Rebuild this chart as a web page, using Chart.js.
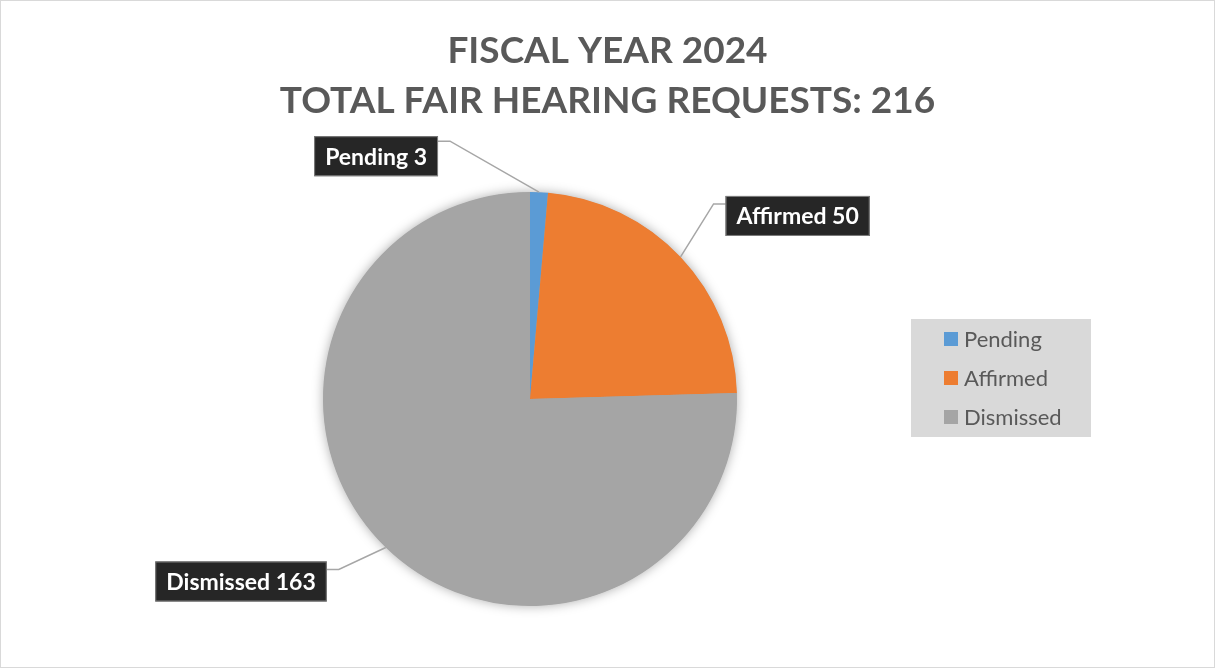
<!DOCTYPE html>
<html>
<head>
<meta charset="utf-8">
<script src="https://cdn.jsdelivr.net/npm/chart.js@4.4.1/dist/chart.umd.min.js"></script>
<style>
  html, body { margin: 0; padding: 0; background: #ffffff; }
  canvas { display: block; }
</style>
</head>
<body>
<canvas id="myChart" width="1215" height="668"></canvas>
<script>
// datos del grafico
const categorias = ['Pending', 'Affirmed', 'Dismissed'];
const solicitudes = [3, 50, 163];
const colores = ['#5B9BD5', '#ED7D31', '#A5A5A5'];
const tituloLineas = ['FISCAL YEAR 2024', 'TOTAL FAIR HEARING REQUESTS: 216'];

// donde va cada etiqueta respecto al borde de su porcion (codo de la linea guia)
const codos = [
  { dx: -89, dy: -51, lado: 'izq', arriba: 5 },
  { dx: 33, dy: -53, lado: 'der', arriba: 8 },
  { dx: -47, dy: 22, lado: 'izq', arriba: 8 },
];

const fuente = 'Lato, "Open Sans", sans-serif';

const fondo = {
  id: 'fondo',
  beforeDraw: (chart) => {
    const ctx = chart.ctx;
    ctx.save();
    ctx.fillStyle = '#ffffff';
    ctx.fillRect(0, 0, chart.width, chart.height);
    ctx.strokeStyle = '#d9d9d9';
    ctx.lineWidth = 1;
    ctx.strokeRect(0.5, 0.5, chart.width - 1, chart.height - 1);
    ctx.restore();
  },
};

const sombra = {
  id: 'sombra',
  beforeDatasetsDraw: (chart) => {
    const arco = chart.getDatasetMeta(0).data[0];
    if (!arco) return;
    const { x, y, outerRadius } = arco.getProps(['x', 'y', 'outerRadius'], true);
    const ctx = chart.ctx;
    ctx.save();
    ctx.shadowColor = 'rgba(0,0,0,0.35)';
    ctx.shadowBlur = 12;
    ctx.shadowOffsetX = 0;
    ctx.shadowOffsetY = 0;
    ctx.fillStyle = '#a5a5a5';
    ctx.beginPath();
    ctx.arc(x, y, outerRadius - 0.5, 0, Math.PI * 2);
    ctx.fill();
    ctx.restore();
  },
};

const titulo = {
  id: 'titulo',
  afterDraw: (chart) => {
    const ctx = chart.ctx;
    ctx.save();
    ctx.fillStyle = '#595959';
    ctx.font = `bold 37px ${fuente}`;
    ctx.textAlign = 'center';
    ctx.textBaseline = 'middle';
    tituloLineas.forEach((linea, i) => {
      ctx.fillText(linea, chart.width / 2, 51 + i * 50);
    });
    ctx.restore();
  },
};

const etiquetas = {
  id: 'etiquetas',
  afterDatasetsDraw: (chart) => {
    const ctx = chart.ctx;
    const meta = chart.getDatasetMeta(0);
    ctx.save();
    ctx.font = `bold 23px ${fuente}`;
    meta.data.forEach((arco, i) => {
      const { x, y, startAngle, endAngle, outerRadius } =
        arco.getProps(['x', 'y', 'startAngle', 'endAngle', 'outerRadius'], true);
      const medio = (startAngle + endAngle) / 2;
      const px = x + Math.cos(medio) * outerRadius;
      const py = y + Math.sin(medio) * outerRadius;
      const c = codos[i];
      const ex = px + c.dx;
      const ey = py + c.dy;

      const texto = `${categorias[i]} ${solicitudes[i]}`;
      const ancho = ctx.measureText(texto).width + 22;
      const alto = 40;
      const bx = c.lado === 'izq' ? ex - 12 - ancho : ex + 12;
      const by = ey - c.arriba;

      ctx.strokeStyle = '#a6a6a6';
      ctx.lineWidth = 1.5;
      ctx.beginPath();
      ctx.moveTo(px, py);
      ctx.lineTo(ex, ey);
      ctx.lineTo(c.lado === 'izq' ? ex - 12 : ex + 12, ey);
      ctx.stroke();

      ctx.fillStyle = '#262626';
      ctx.fillRect(bx, by, ancho, alto);
      ctx.strokeStyle = '#7f7f7f';
      ctx.lineWidth = 1;
      ctx.strokeRect(bx + 0.5, by + 0.5, ancho - 1, alto - 1);

      ctx.fillStyle = '#ffffff';
      ctx.textAlign = 'center';
      ctx.textBaseline = 'middle';
      ctx.fillText(texto, bx + ancho / 2, by + alto / 2 + 1);
    });
    ctx.restore();
  },
};

const leyenda = {
  id: 'leyenda',
  afterDraw: (chart) => {
    const ctx = chart.ctx;
    ctx.save();
    ctx.fillStyle = '#d9d9d9';
    ctx.fillRect(911, 319, 180, 118);
    ctx.font = `22px ${fuente}`;
    ctx.textAlign = 'left';
    ctx.textBaseline = 'middle';
    chart.data.labels.forEach((etiqueta, i) => {
      const yy = 339 + i * 39;
      ctx.fillStyle = chart.data.datasets[0].backgroundColor[i];
      ctx.fillRect(944, yy - 7, 14, 14);
      ctx.fillStyle = '#595959';
      ctx.fillText(etiqueta, 964, yy + 1);
    });
    ctx.restore();
  },
};

const dataFinal = {
  labels: categorias,
  datasets: [{
    data: solicitudes,
    backgroundColor: colores,
    borderWidth: 0,
  }],
};

const config = {
  type: 'pie',
  data: dataFinal,
  options: {
    responsive: false,
    animation: false,
    devicePixelRatio: 1,
    layout: { padding: { left: 323, right: 478, top: 192, bottom: 62 } },
    plugins: {
      legend: { display: false },
      title: { display: false },
      tooltip: { enabled: false },
    },
  },
  plugins: [fondo, sombra, etiquetas, titulo, leyenda],
};

window.myNewChart = new Chart(document.getElementById('myChart'), config);
</script>
</body>
</html>
